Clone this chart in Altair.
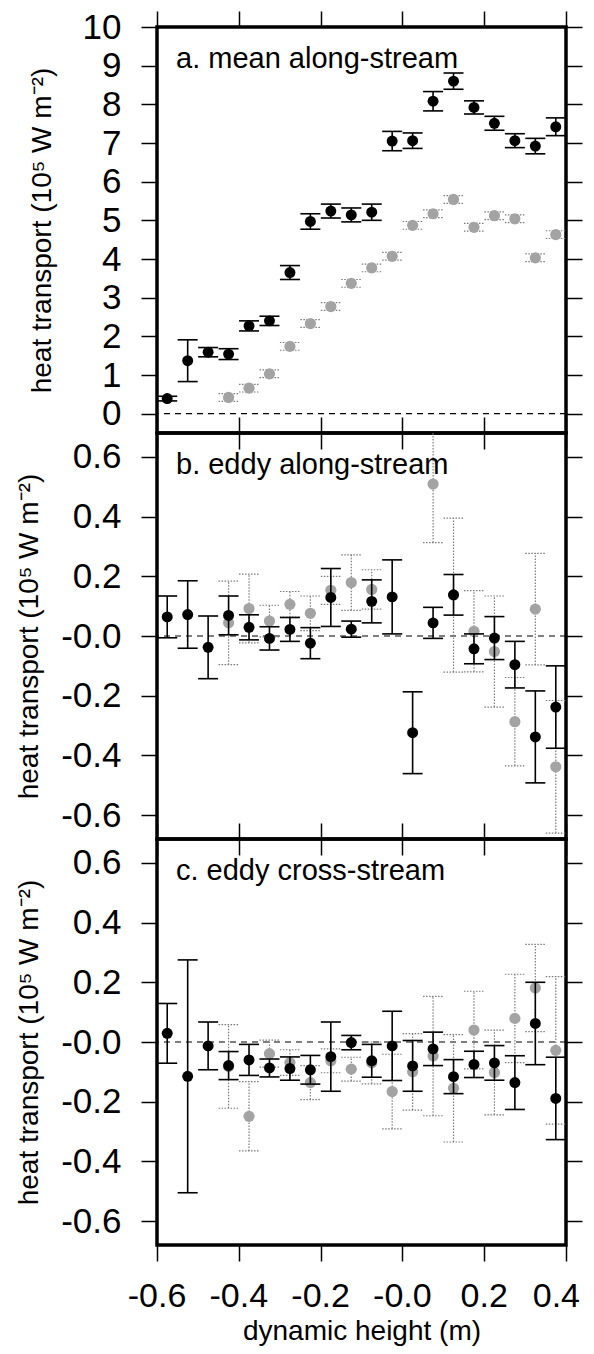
import altair as alt
import pandas as pd

# ---------------- data ----------------
dyn_height = [-0.575, -0.525, -0.475, -0.425, -0.375, -0.325, -0.275, -0.225, -0.175, -0.125,
              -0.075, -0.025, 0.025, 0.075, 0.125, 0.175, 0.225, 0.275, 0.325, 0.375]

# a. mean along-stream
a_black = [0.39, 1.37, 1.59, 1.54, 2.27, 2.40, 3.65, 4.97, 5.24, 5.14,
           5.21, 7.05, 7.06, 8.08, 8.60, 7.92, 7.51, 7.06, 6.92, 7.42]
a_black_err = [0.06, 0.54, 0.12, 0.14, 0.13, 0.12, 0.18, 0.20, 0.18, 0.18,
               0.21, 0.25, 0.20, 0.25, 0.21, 0.17, 0.18, 0.18, 0.20, 0.23]
a_gray = [None, None, None, 0.42, 0.66, 1.03, 1.74, 2.33, 2.77, 3.37,
          3.77, 4.07, 4.87, 5.17, 5.54, 4.82, 5.12, 5.04, 4.03, 4.63]
a_gray_err = [None, None, None, 0.10, 0.10, 0.10, 0.10, 0.10, 0.10, 0.10,
              0.10, 0.10, 0.10, 0.10, 0.10, 0.10, 0.10, 0.10, 0.10, 0.10]

# b. eddy along-stream
b_black = [0.064, 0.072, -0.038, 0.069, 0.029, -0.008, 0.022, -0.024, 0.129, 0.023,
           0.116, 0.131, -0.324, 0.044, 0.138, -0.043, -0.007, -0.096, -0.338, -0.238]
b_black_err = [0.070, 0.113, 0.105, 0.065, 0.042, 0.039, 0.040, 0.052, 0.097, 0.027,
               0.072, 0.124, 0.137, 0.052, 0.068, 0.050, 0.072, 0.078, 0.154, 0.138]
b_gray = [None, None, None, 0.044, 0.092, 0.050, 0.106, 0.076, 0.153, 0.179,
          0.156, None, None, 0.509, 0.137, 0.016, -0.052, -0.287, 0.090, -0.438]
b_gray_err = [None, None, None, 0.140, 0.115, 0.053, 0.043, 0.058, 0.047, 0.093,
              0.066, None, None, 0.196, 0.258, 0.136, 0.186, 0.148, 0.187, 0.222]

# c. eddy cross-stream
c_black = [0.029, -0.115, -0.013, -0.079, -0.060, -0.087, -0.089, -0.093, -0.049, -0.002,
           -0.063, -0.013, -0.080, -0.023, -0.116, -0.075, -0.070, -0.136, 0.062, -0.189]
c_black_err = [0.100, 0.390, 0.080, 0.047, 0.052, 0.030, 0.039, 0.048, 0.116, 0.024,
               0.055, 0.116, 0.085, 0.056, 0.057, 0.044, 0.058, 0.090, 0.138, 0.138]
c_gray = [None, None, None, -0.082, -0.249, -0.039, -0.069, -0.136, -0.063, -0.091,
          -0.070, -0.166, -0.100, -0.047, -0.155, 0.040, -0.102, 0.079, 0.181, -0.028]
c_gray_err = [None, None, None, 0.140, 0.116, 0.045, 0.043, 0.057, 0.040, 0.040,
              0.070, 0.125, 0.128, 0.200, 0.180, 0.130, 0.142, 0.148, 0.146, 0.247]

panel_labels = ["a. mean along-stream", "b. eddy along-stream", "c. eddy cross-stream"]
x_ticks = [-0.6, -0.4, -0.2, 0.0, 0.2, 0.4]
a_ticks = [0, 1, 2, 3, 4, 5, 6, 7, 8, 9, 10]
bc_ticks = [-0.6, -0.4, -0.2, 0.0, 0.2, 0.4, 0.6]
y_title = "heat transport (10⁵ W m⁻²)"
x_title = "dynamic height (m)"

# ---------------- styling ----------------
FONT = "Liberation Sans"
W, H = 409, 406
TICK = 16


def signed_fmt(ref):
    return ("abs({r}) < 1e-9 ? '-0.0' : ({r} < 0 ? '-' + format(-{r}, '.1f') "
            ": format({r}, '.1f'))").format(r=ref)


def frame(xs, vals, errs):
    rows = [dict(x=xi, v=vi, lo=vi - ei, hi=vi + ei)
            for xi, vi, ei in zip(xs, vals, errs) if vi is not None]
    return pd.DataFrame(rows)


def make_panel(label, black, black_err, gray, gray_err, ydom, yticks, ylab_expr,
               title_pad, bottom_labels):
    xs = alt.Scale(domain=[-0.6, 0.4], nice=False, zero=False)
    ys = alt.Scale(domain=ydom, nice=False, zero=False)
    dfb = frame(dyn_height, black, black_err)
    dfg = frame(dyn_height, gray, gray_err)

    common = dict(tickSize=TICK, tickWidth=1.5, tickColor="black", domain=False,
                  grid=False)
    left_axis = alt.Axis(orient="left", values=yticks, labelExpr=ylab_expr,
                         title=y_title, labelFontSize=35, labelPadding=20,
                         labelFont=FONT, labelColor="black", titleFont=FONT,
                         titleFontSize=28, titleFontWeight="normal",
                         titleColor="black", titlePadding=title_pad,
                         labelOverlap=False, labelFlush=False, **common)
    right_axis = alt.Axis(orient="right", values=yticks, labels=False,
                          title=None, **common)
    top_axis = alt.Axis(orient="top", values=x_ticks, labels=False,
                        title=None, **common)
    if bottom_labels:
        bottom_axis = alt.Axis(orient="bottom", values=x_ticks, labels=False,
                               title=x_title, titleFont=FONT, titleFontSize=28,
                               titleFontWeight="normal", titleColor="black",
                               titlePadding=56, **common)
    else:
        bottom_axis = alt.Axis(orient="bottom", values=x_ticks, labels=False,
                               title=None, **common)

    zero = alt.Chart(pd.DataFrame({"z": [0.0]})).mark_rule(
        color="black", strokeWidth=1.2, strokeDash=[6, 5]
    ).encode(y=alt.Y("z:Q", scale=ys, axis=left_axis))

    gbase = alt.Chart(dfg)
    g_rule = gbase.mark_rule(color="#7a7a7a", strokeWidth=1.2,
                             strokeDash=[1.5, 1.5], clip=True).encode(
        x=alt.X("x:Q", scale=xs, axis=bottom_axis),
        y=alt.Y("lo:Q", scale=ys, axis=right_axis),
        y2="hi:Q")
    g_lo = gbase.mark_rule(color="#7a7a7a", strokeWidth=1.2, strokeDash=[1.5, 1.5],
                           xOffset=-10, x2Offset=10, clip=True).encode(
        x=alt.X("x:Q", scale=xs, axis=None), x2="x:Q",
        y=alt.Y("lo:Q", scale=ys, axis=None))
    g_hi = gbase.mark_rule(color="#7a7a7a", strokeWidth=1.2, strokeDash=[1.5, 1.5],
                           xOffset=-10, x2Offset=10, clip=True).encode(
        x=alt.X("x:Q", scale=xs, axis=None), x2="x:Q",
        y=alt.Y("hi:Q", scale=ys, axis=None))
    g_pts = gbase.mark_circle(size=125, color="#a3a3a3", opacity=1).encode(
        x=alt.X("x:Q", scale=xs, axis=None),
        y=alt.Y("v:Q", scale=ys, axis=None))

    bbase = alt.Chart(dfb)
    b_rule = bbase.mark_rule(color="black", strokeWidth=1.6, clip=True).encode(
        x=alt.X("x:Q", scale=xs, axis=top_axis),
        y=alt.Y("lo:Q", scale=ys, axis=None),
        y2="hi:Q")
    b_lo = bbase.mark_rule(color="black", strokeWidth=1.6, xOffset=-10,
                           x2Offset=10, clip=True).encode(
        x=alt.X("x:Q", scale=xs, axis=None), x2="x:Q",
        y=alt.Y("lo:Q", scale=ys, axis=None))
    b_hi = bbase.mark_rule(color="black", strokeWidth=1.6, xOffset=-10,
                           x2Offset=10, clip=True).encode(
        x=alt.X("x:Q", scale=xs, axis=None), x2="x:Q",
        y=alt.Y("hi:Q", scale=ys, axis=None))
    b_pts = bbase.mark_circle(size=120, color="black", opacity=1).encode(
        x=alt.X("x:Q", scale=xs, axis=None),
        y=alt.Y("v:Q", scale=ys, axis=None))

    text = alt.Chart(pd.DataFrame({"t": [label]})).mark_text(
        align="left", baseline="alphabetic", font=FONT, fontSize=29, color="black"
    ).encode(x=alt.value(19), y=alt.value(41), text="t:N")

    layers = [zero, g_rule, g_lo, g_hi, g_pts, b_rule, b_lo, b_hi, b_pts, text]

    if bottom_labels:
        lab_base = alt.Chart(pd.DataFrame({"v": x_ticks})).transform_calculate(
            lab=signed_fmt("datum.v"))
        lab_style = dict(baseline="top", font=FONT, fontSize=34, color="black")
        lab_main = lab_base.transform_filter("datum.v < 0.3").mark_text(
            align="center", **lab_style).encode(
            x=alt.X("v:Q", scale=xs, axis=None), y=alt.value(H + 35), text="lab:N")
        lab_last = lab_base.transform_filter("datum.v > 0.3").mark_text(
            align="right", dx=14, **lab_style).encode(
            x=alt.X("v:Q", scale=xs, axis=None), y=alt.value(H + 35), text="lab:N")
        layers += [lab_main, lab_last]

    return alt.layer(*layers).resolve_axis(
        x="independent", y="independent").properties(width=W, height=H)


int_expr = "format(datum.value, 'd')"
pa = make_panel(panel_labels[0], a_black, a_black_err, a_gray, a_gray_err,
                [-0.5, 10.0], a_ticks, int_expr, 26, False)
pb = make_panel(panel_labels[1], b_black, b_black_err, b_gray, b_gray_err,
                [-0.68, 0.68], bc_ticks, signed_fmt("datum.value"), 17, False)
pc = make_panel(panel_labels[2], c_black, c_black_err, c_gray, c_gray_err,
                [-0.68, 0.68], bc_ticks, signed_fmt("datum.value"), 17, True)

chart = alt.vconcat(pa, pb, pc, spacing=0, bounds="flush").properties(
    padding={"left": 5, "top": 0, "right": 0, "bottom": 0}
).configure_view(stroke="black", strokeWidth=3.5)

chart.save("out.html", embed_options={"renderer": "svg", "actions": False})
